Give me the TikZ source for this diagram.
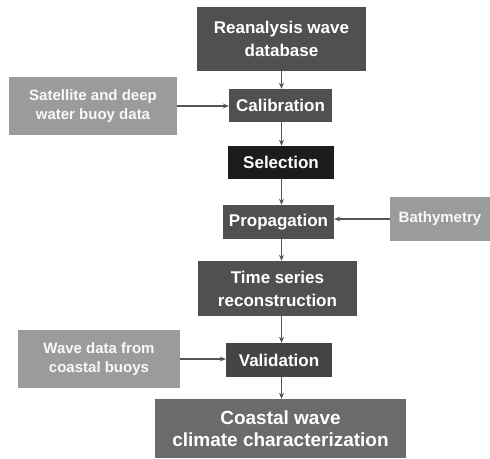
\documentclass[tikz,border=0pt]{standalone}
\usepackage{fontspec}
\setmainfont{Liberation Sans}
\usetikzlibrary{arrows.meta}
\definecolor{darkbox}{HTML}{505050}
\definecolor{blackbox}{HTML}{1C1C1C}
\definecolor{lightbox}{HTML}{9B9B9B}
\definecolor{finalbox}{HTML}{6B6B6B}
\definecolor{arrowcol}{HTML}{555555}
\begin{document}
\begin{tikzpicture}[x=1bp,y=-1bp,
  box/.style={rectangle,inner sep=0pt,align=center,text=white,font=\bfseries},
  mainbox/.style={box,fill=darkbox,font=\fontsize{17bp}{23bp}\selectfont\bfseries},
  sidebox/.style={box,fill=lightbox,text=white!95!gray,font=\fontsize{15bp}{19bp}\selectfont\bfseries},
  arr/.style={draw=arrowcol,line width=1.5bp,-{Stealth[length=6bp,width=5bp]}}]
\useasboundingbox (0,0) rectangle (490,459);
\node[mainbox,minimum width=169bp,minimum height=64bp] (rea) at (281.5,39) {Reanalysis wave\\database};
\node[mainbox,minimum width=103bp,minimum height=33bp] (cal) at (280.5,105.5) {Calibration};
\node[sidebox,minimum width=168bp,minimum height=58bp] (sat) at (93,106) {Satellite and deep\\water buoy data};
\node[mainbox,fill=blackbox,minimum width=106bp,minimum height=33bp] (sel) at (281,162.5) {Selection};
\node[mainbox,minimum width=111bp,minimum height=34bp] (pro) at (278.5,222) {Propagation};
\node[sidebox,minimum width=100bp,minimum height=44bp] (bat) at (440,219) {Bathymetry};
\node[mainbox,minimum width=159bp,minimum height=55bp] (tim) at (277.5,288.5) {Time series\\reconstruction};
\node[mainbox,fill=darkbox!85!black,minimum width=106bp,minimum height=34bp] (val) at (279,360) {Validation};
\node[sidebox,minimum width=162bp,minimum height=58bp] (wav) at (99,359) {Wave data from\\coastal buoys};
\node[mainbox,fill=finalbox,minimum width=251bp,minimum height=59bp,font=\fontsize{19bp}{22bp}\selectfont\bfseries] (coa) at (280.5,428.5) {Coastal wave\\climate characterization};
\coordinate (ax) at (281.5,0);
\draw[arr] (rea.south -| ax) -- (cal.north -| ax);
\draw[arr] (cal.south -| ax) -- (sel.north -| ax);
\draw[arr] (sel.south -| ax) -- (pro.north -| ax);
\draw[arr] (pro.south -| ax) -- (tim.north -| ax);
\draw[arr] (tim.south -| ax) -- (val.north -| ax);
\draw[arr] (val.south -| ax) -- (coa.north -| ax);
\draw[arr] (sat.east) -- (sat.east -| cal.west);
\draw[arr] (bat.west) -- (bat.west -| pro.east);
\draw[arr] (wav.east) -- (wav.east -| val.west);
\end{tikzpicture}
\end{document}
